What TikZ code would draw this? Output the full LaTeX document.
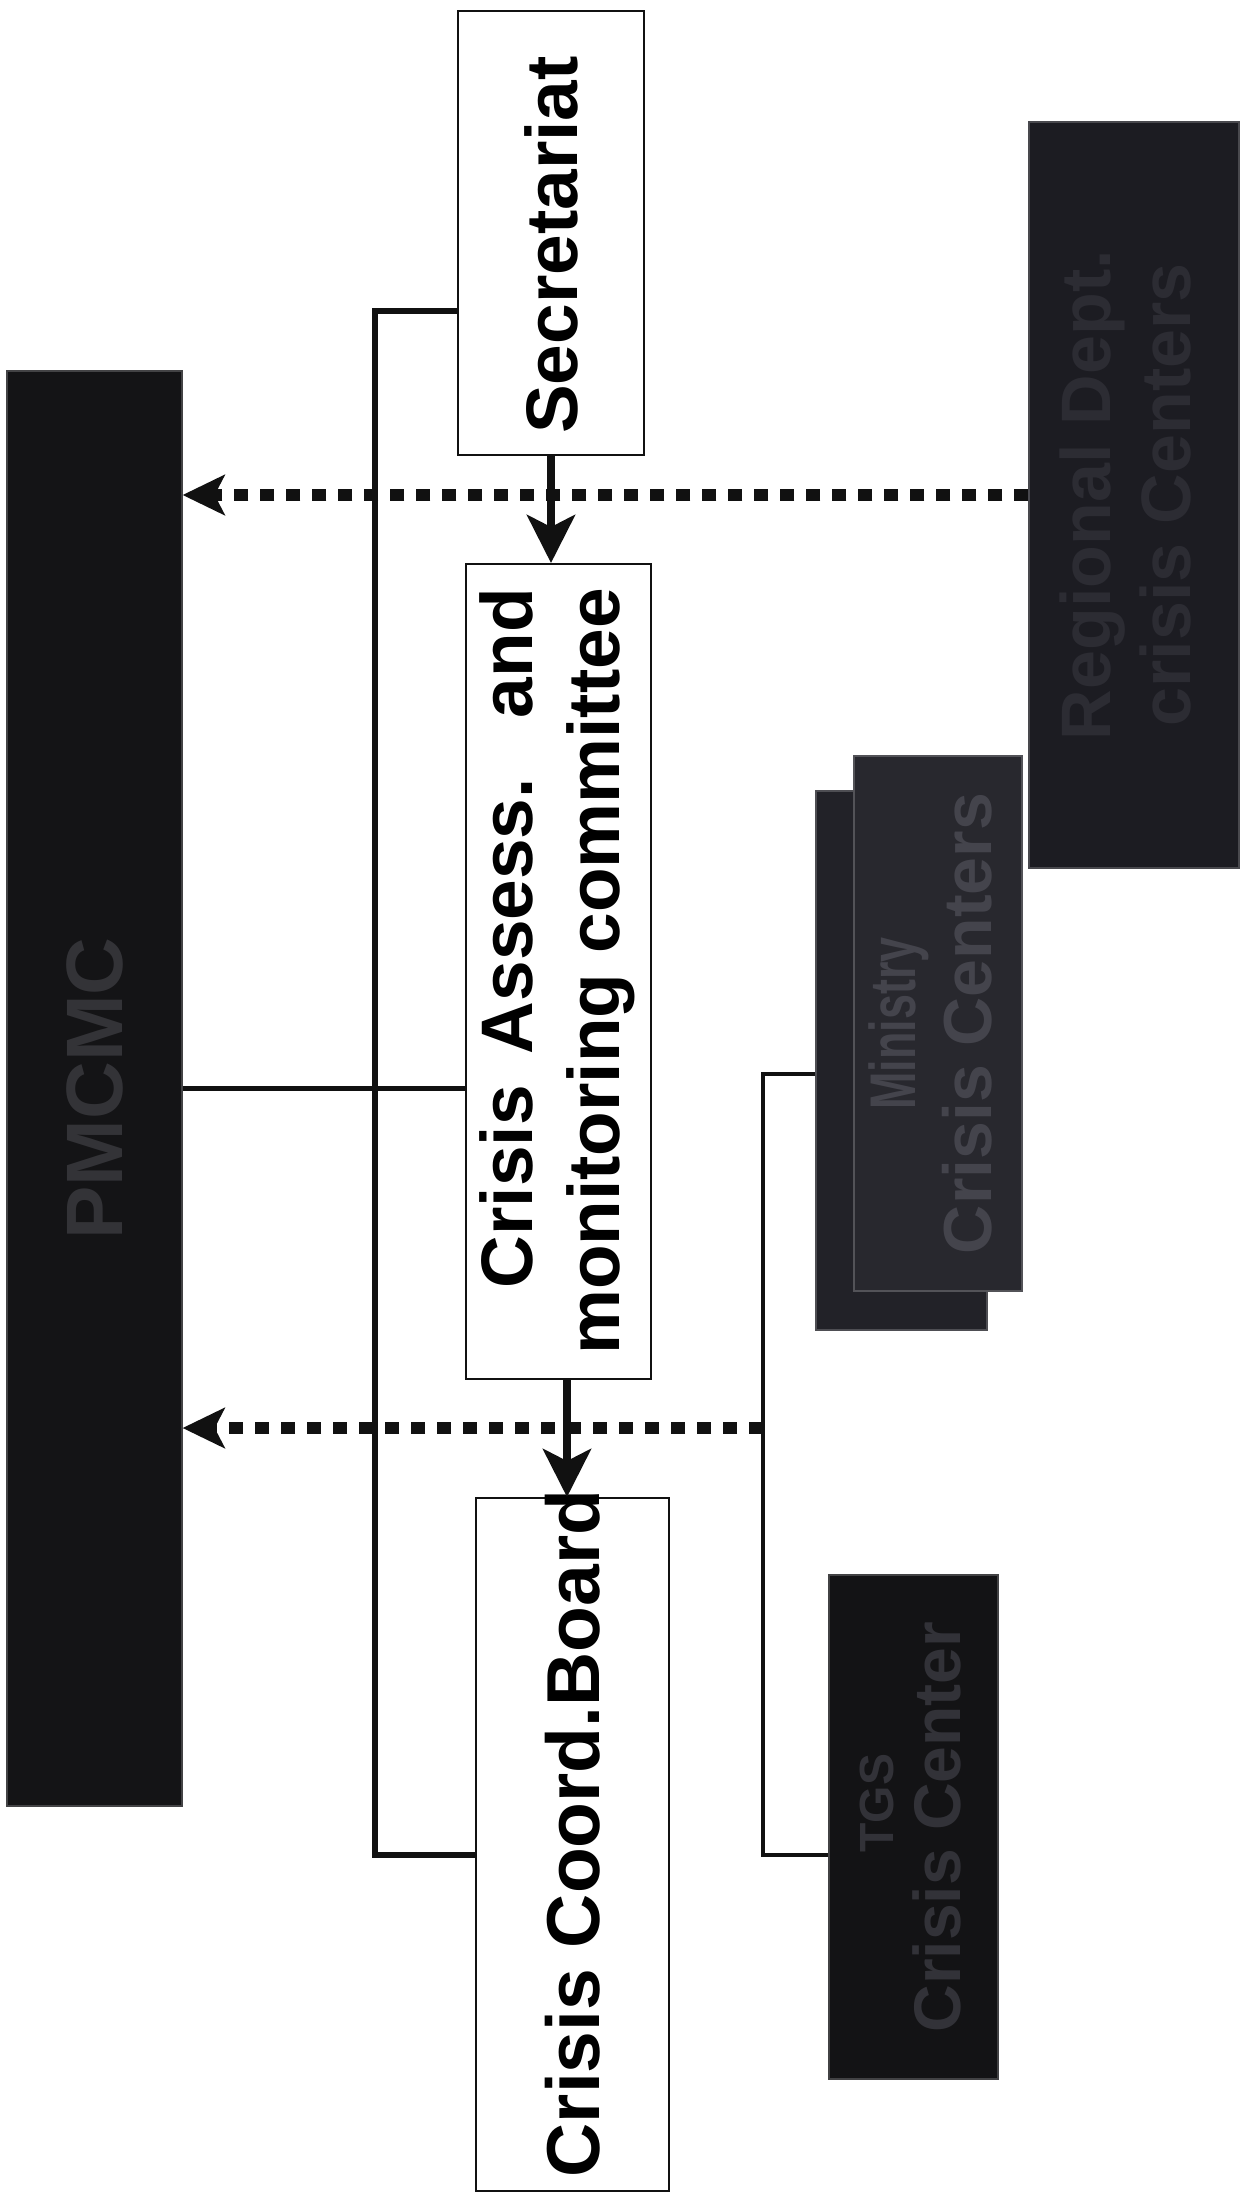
\documentclass[tikz,border=0pt]{standalone}
\usepackage{fontspec}
\setmainfont{Liberation Sans}
\usepackage{graphicx}
\usetikzlibrary{arrows.meta}

\definecolor{ink}{HTML}{111111}
\definecolor{pmfill}{HTML}{141416}
\definecolor{pmtext}{HTML}{333337}
\definecolor{regfill}{HTML}{1C1C22}
\definecolor{regtext}{HTML}{2C2C33}
\definecolor{minfill}{HTML}{28282E}
\definecolor{minback}{HTML}{222228}
\definecolor{mintext}{HTML}{44444C}
\definecolor{tgsfill}{HTML}{131315}
\definecolor{tgstext}{HTML}{323238}

\newcommand\boxfont{\fontsize{36.5}{43.5}\selectfont\bfseries}
\newcommand\bigboxfont{\fontsize{37.5}{44}\selectfont\bfseries}
\newcommand\darkfont{\fontsize{35}{40}\selectfont\bfseries}
\newcommand\minfont{\fontsize{34}{38}\selectfont\bfseries}
\newcommand\tgsfont{\fontsize{33}{46}\selectfont\bfseries}
\newcommand\pmfont{\fontsize{40}{46}\selectfont\bfseries}
% vertical label whose width does not enlarge its box
\newcommand\uptext[1]{\rotatebox{90}{\makebox[0pt]{#1}}}

\begin{document}
\begin{tikzpicture}[x=0.5pt,y=-0.5pt,
  wbox/.style={draw=ink, line width=1pt, fill=white, inner sep=0pt},
  dbox/.style={draw=#1!80!white, line width=0.6pt, fill=#1, inner sep=0pt},
  link/.style={draw=ink, line width=3pt},
  thinlink/.style={draw=ink, line width=1.7pt},
  flow/.style={draw=ink, line width=4pt,
    -{Stealth[length=24pt,width=24pt,inset=6pt]}},
  dotflow/.style={draw=ink, line width=6pt, dash pattern=on 7pt off 6pt,
    -{Stealth[length=21pt,width=20pt,inset=5pt]}}]

\useasboundingbox[fill=white] (0,0) rectangle (1246,2196);

% left column: the top-level centre
\node[dbox=pmfill, minimum width=87.5pt, minimum height=717.5pt] (pm) at (94.5,1088.5)
  {\uptext{\pmfont\color{pmtext}PMCMC}};

% central chain of white boxes
\node[wbox, minimum width=93pt, minimum height=222pt] (sec) at (551,233)
  {\uptext{\boxfont Secretariat\kern12pt}};
\node[wbox, minimum width=92.5pt, minimum height=407.5pt] (cam) at (558.5,971.5)
  {\uptext{\boxfont\begin{tabular}{@{}r@{}}\makebox[350pt][s]{Crisis Assess. and}\\monitoring committee\end{tabular}}};
\node[wbox, minimum width=96.5pt, minimum height=346.5pt] (ccb) at (572.5,1844.5)
  {\uptext{\bigboxfont\kern11pt Crisis Coord.Board}};

% right column: subordinate crisis centres
\node[dbox=regfill, minimum width=105pt, minimum height=373pt] (reg) at (1134,495)
  {\uptext{\darkfont\color{regtext}\begin{tabular}{@{}c@{}}Regional Dept.\\crisis Centers\end{tabular}}};
\node[dbox=minback, minimum width=85.5pt, minimum height=269.5pt] (minb) at (901.5,1060.5) {};
\node[dbox=minfill, minimum width=84pt, minimum height=267.5pt] (minf) at (938,1023.5)
  {\uptext{\minfont\color{mintext}\begin{tabular}{@{}c@{}}\scalebox{0.66}[0.95]{Ministry}\\Crisis Centers\end{tabular}}};
\node[dbox=tgsfill, minimum width=84.5pt, minimum height=252pt] (tgs) at (913.5,1827)
  {\uptext{\color{tgstext}\begin{tabular}{@{}c@{}}\fontsize{24}{24}\selectfont\bfseries\kern24pt TGS\\[6pt]\tgsfont Crisis Center\end{tabular}}};

% junction points
\coordinate (jt) at (375,311);
\coordinate (jb) at (375,1855);
\coordinate (mj) at (763,1074);
\coordinate (dj) at (763,1428);
\coordinate (tj) at (763,1855);

% solid links
\draw[link] (sec.west |- jt) -- (jt) -- (jb) -- (ccb.west |- jb);
\draw[link, line width=2.6pt] (pm.east) -- (pm.east -| cam.west);
\draw[thinlink] (minb.west |- mj) -- (mj) -- (tj) -- (tgs.west |- tj);

% reporting lines (dotted)
\draw[dotflow] (reg.west) -- (reg.west -| pm.east);
\draw[dotflow] (dj) -- (dj -| pm.east);

% command flow
\draw[flow] (sec.south) -- (sec.south |- cam.north);
\draw[flow] (cam.south -| 567,0) -- (ccb.north -| 567,0);
\end{tikzpicture}
\end{document}
